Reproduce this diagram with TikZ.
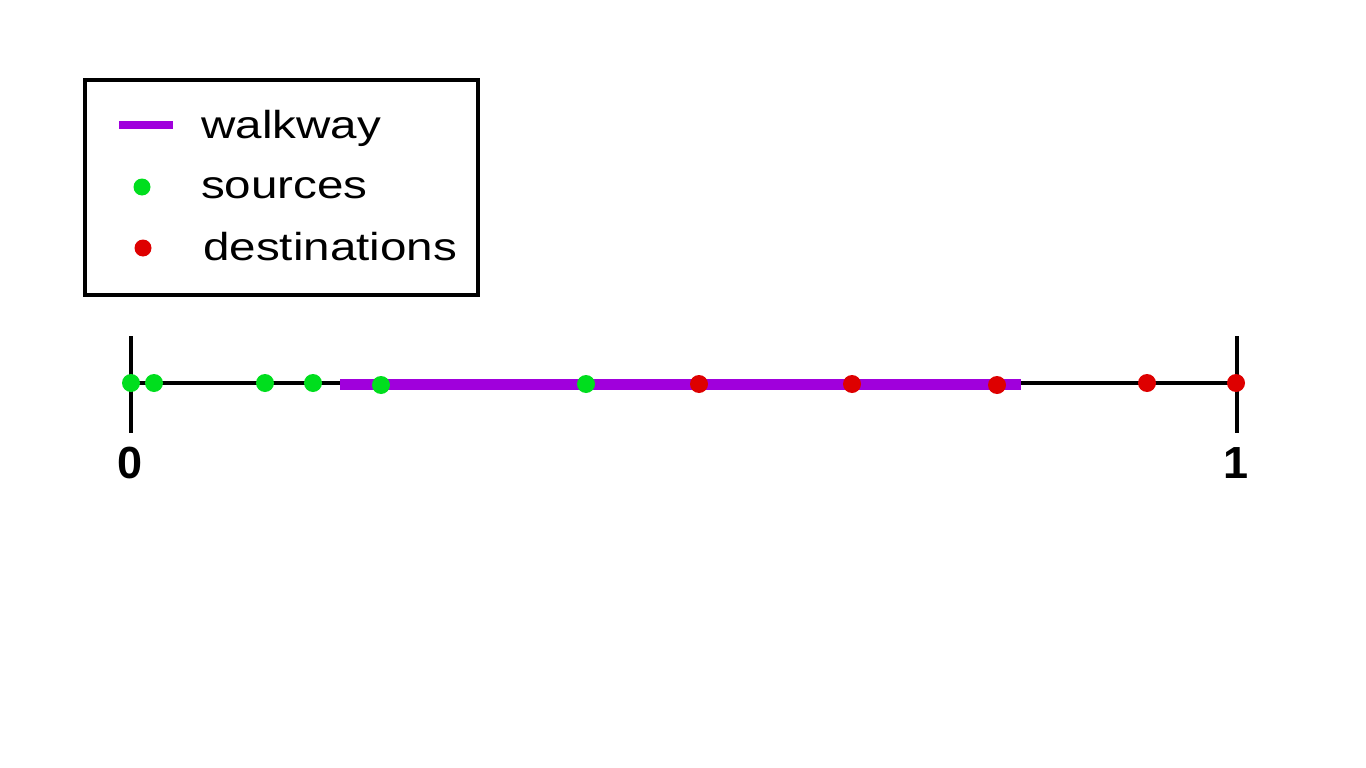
\documentclass[tikz,border=0pt]{standalone}
\usepackage{fontspec}
\setmainfont{Liberation Sans}
\newfontfamily\legfont[FakeStretch=1.22]{Liberation Sans}
\definecolor{walk}{RGB}{160,0,220}
\definecolor{src}{RGB}{0,222,30}
\definecolor{dst}{RGB}{222,0,0}
\begin{document}
\begin{tikzpicture}[x=1pt,y=-1pt,
  axis/.style={draw=black,line width=3.6pt},
  walkline/.style={draw=walk,line width=11pt},
  srcdot/.style={circle,fill=src,inner sep=0pt,minimum size=18pt},
  dstdot/.style={circle,fill=dst,inner sep=0pt,minimum size=18pt},
  legtext/.style={anchor=base west,inner sep=0pt,font=\legfont\fontsize{39}{39}\selectfont},
  ticklabel/.style={anchor=base,inner sep=0pt,font=\fontsize{45}{45}\selectfont\bfseries}]
\useasboundingbox (0,0) rectangle (1366,768);
% legend
\node[draw=black,line width=3.5pt,minimum width=393pt,minimum height=215pt,inner sep=0pt] (legend) at (281.5,187.5) {};
\coordinate (lw1) at (119,125);
\coordinate (lw2) at (173,125);
\draw[draw=walk,line width=8pt] (lw1) -- (lw2);
\node[srcdot,minimum size=17pt] (ls) at (142,187) {};
\node[dstdot,minimum size=17pt] (ld) at (143,248) {};
\node[legtext] (tw) at (201,138) {walkway};
\node[legtext] (ts) at (201,198) {sources};
\node[legtext] (td) at (203,260) {destinations};
% axis
\coordinate (a0) at (131,383);
\coordinate (a1) at (1237,383);
\coordinate (t0a) at (131,336);
\coordinate (t0b) at (131,433);
\coordinate (t1a) at (1237,336);
\coordinate (t1b) at (1237,433);
\draw[axis] (a0) -- (a1);
\draw[axis] (t0a) -- (t0b);
\draw[axis] (t1a) -- (t1b);
\node[ticklabel] (l0) at (130,478) {0};
\node[ticklabel] (l1) at (1236,478) {1};
% walkway
\coordinate (w0) at (340,384);
\coordinate (w1) at (1021,384);
\draw[walkline] (w0) -- (w1);
% sources
\node[srcdot] (s1) at (131,383) {};
\node[srcdot] (s2) at (154,383) {};
\node[srcdot] (s3) at (265,383) {};
\node[srcdot] (s4) at (313,383) {};
\node[srcdot] (s5) at (381,385) {};
\node[srcdot] (s6) at (586,384) {};
% destinations
\node[dstdot] (d1) at (699,384) {};
\node[dstdot] (d2) at (852,384) {};
\node[dstdot] (d3) at (997,385) {};
\node[dstdot] (d4) at (1147,383) {};
\node[dstdot] (d5) at (1236,383) {};
\end{tikzpicture}
\end{document}
